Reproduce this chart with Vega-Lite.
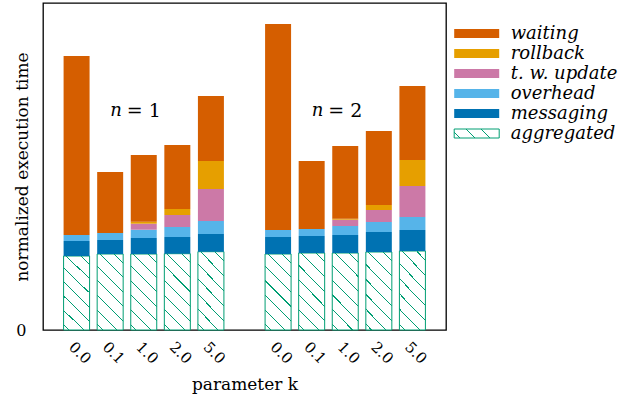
{
  "$schema": "https://vega.github.io/schema/vega-lite/v6.json",
  "autosize": "none",
  "width": 403,
  "height": 327,
  "padding": {"left": 43, "top": 3, "right": 195, "bottom": 70},
  "background": "white",
  "config": {
    "view": {"stroke": "black", "strokeWidth": 1.3},
    "font": "DejaVu Serif"
  },
  "datasets": {
    "bars": [
      {"key": "1|0.0", "comp": "aggregated", "idx": 1, "v": 74},
      {"key": "1|0.0", "comp": "messaging", "idx": 2, "v": 15},
      {"key": "1|0.0", "comp": "overhead", "idx": 3, "v": 6},
      {"key": "1|0.0", "comp": "waiting", "idx": 6, "v": 179},
      {"key": "1|0.1", "comp": "aggregated", "idx": 1, "v": 76},
      {"key": "1|0.1", "comp": "messaging", "idx": 2, "v": 14},
      {"key": "1|0.1", "comp": "overhead", "idx": 3, "v": 7},
      {"key": "1|0.1", "comp": "waiting", "idx": 6, "v": 61},
      {"key": "1|1.0", "comp": "aggregated", "idx": 1, "v": 76},
      {"key": "1|1.0", "comp": "messaging", "idx": 2, "v": 16},
      {"key": "1|1.0", "comp": "overhead", "idx": 3, "v": 8.3},
      {"key": "1|1.0", "comp": "t. w. update", "idx": 4, "v": 6},
      {"key": "1|1.0", "comp": "rollback", "idx": 5, "v": 2},
      {"key": "1|1.0", "comp": "waiting", "idx": 6, "v": 66.7},
      {"key": "1|2.0", "comp": "aggregated", "idx": 1, "v": 76.3},
      {"key": "1|2.0", "comp": "messaging", "idx": 2, "v": 16.7},
      {"key": "1|2.0", "comp": "overhead", "idx": 3, "v": 10},
      {"key": "1|2.0", "comp": "t. w. update", "idx": 4, "v": 12},
      {"key": "1|2.0", "comp": "rollback", "idx": 5, "v": 6},
      {"key": "1|2.0", "comp": "waiting", "idx": 6, "v": 64},
      {"key": "1|5.0", "comp": "aggregated", "idx": 1, "v": 78.3},
      {"key": "1|5.0", "comp": "messaging", "idx": 2, "v": 17.7},
      {"key": "1|5.0", "comp": "overhead", "idx": 3, "v": 13},
      {"key": "1|5.0", "comp": "t. w. update", "idx": 4, "v": 32},
      {"key": "1|5.0", "comp": "rollback", "idx": 5, "v": 28},
      {"key": "1|5.0", "comp": "waiting", "idx": 6, "v": 65},
      {"key": "2|0.0", "comp": "aggregated", "idx": 1, "v": 76},
      {"key": "2|0.0", "comp": "messaging", "idx": 2, "v": 17},
      {"key": "2|0.0", "comp": "overhead", "idx": 3, "v": 7},
      {"key": "2|0.0", "comp": "waiting", "idx": 6, "v": 206},
      {"key": "2|0.1", "comp": "aggregated", "idx": 1, "v": 77},
      {"key": "2|0.1", "comp": "messaging", "idx": 2, "v": 17},
      {"key": "2|0.1", "comp": "overhead", "idx": 3, "v": 7},
      {"key": "2|0.1", "comp": "waiting", "idx": 6, "v": 68},
      {"key": "2|1.0", "comp": "aggregated", "idx": 1, "v": 77},
      {"key": "2|1.0", "comp": "messaging", "idx": 2, "v": 18},
      {"key": "2|1.0", "comp": "overhead", "idx": 3, "v": 9},
      {"key": "2|1.0", "comp": "t. w. update", "idx": 4, "v": 6.3},
      {"key": "2|1.0", "comp": "rollback", "idx": 5, "v": 1},
      {"key": "2|1.0", "comp": "waiting", "idx": 6, "v": 72.7},
      {"key": "2|2.0", "comp": "aggregated", "idx": 1, "v": 78},
      {"key": "2|2.0", "comp": "messaging", "idx": 2, "v": 20},
      {"key": "2|2.0", "comp": "overhead", "idx": 3, "v": 10},
      {"key": "2|2.0", "comp": "t. w. update", "idx": 4, "v": 12},
      {"key": "2|2.0", "comp": "rollback", "idx": 5, "v": 5},
      {"key": "2|2.0", "comp": "waiting", "idx": 6, "v": 74},
      {"key": "2|5.0", "comp": "aggregated", "idx": 1, "v": 79},
      {"key": "2|5.0", "comp": "messaging", "idx": 2, "v": 21},
      {"key": "2|5.0", "comp": "overhead", "idx": 3, "v": 13},
      {"key": "2|5.0", "comp": "t. w. update", "idx": 4, "v": 31},
      {"key": "2|5.0", "comp": "rollback", "idx": 5, "v": 26},
      {"key": "2|5.0", "comp": "waiting", "idx": 6, "v": 74}
    ],
    "labels": [
      {"key": "1|1.0", "var": "n", "rest": "= 1", "y": 219},
      {"key": "2|1.0", "var": "n", "rest": "= 2", "y": 219}
    ]
  },
  "encoding": {
    "x": {
      "field": "key",
      "type": "nominal",
      "scale": {
        "domain": ["1|0.0", "1|0.1", "1|1.0", "1|2.0", "1|5.0", "gap", "2|0.0", "2|0.1", "2|1.0", "2|2.0", "2|5.0"],
        "paddingInner": 0.226,
        "paddingOuter": 0.613
      },
      "axis": {
        "title": "parameter k",
        "titleFont": "DejaVu Serif",
        "titleFontSize": 17,
        "titleFontWeight": "normal",
        "titleColor": "black",
        "titleY": 59,
        "titleBaseline": "alphabetic",
        "labelExpr": "datum.value === 'gap' ? '' : split(datum.value, '|')[1]",
        "labelAngle": 45,
        "labelFont": "DejaVu Serif",
        "labelFontSize": 15,
        "labelColor": "black",
        "labelPadding": 9,
        "domain": false,
        "ticks": false,
        "grid": false
      }
    }
  },
  "layer": [
    {
      "data": {"name": "bars"},
      "mark": {"type": "bar", "strokeWidth": 1},
      "encoding": {
        "y": {
          "field": "v",
          "type": "quantitative",
          "stack": "zero",
          "scale": {"domain": [0, 327], "nice": false, "zero": true},
          "axis": {
            "title": "normalized execution time",
            "titleFont": "DejaVu Serif",
            "titleFontSize": 17,
            "titleFontWeight": "normal",
            "titleColor": "black",
            "titleX": -16,
            "titleBaseline": "alphabetic",
            "values": [0],
            "labelFont": "DejaVu Serif",
            "labelFontSize": 16,
            "labelColor": "black",
            "labelPadding": 17,
            "ticks": false,
            "domain": false,
            "grid": false
          }
        },
        "order": {"field": "idx", "type": "quantitative", "sort": "ascending"},
        "fill": {
          "field": "comp",
          "type": "nominal",
          "condition": {
            "test": "datum.comp === 'aggregated'",
            "value": {
              "gradient": "linear",
              "x1": 0, "y1": 1, "x2": 0.411, "y2": -0.2016,
              "stops": [
                {"offset": 0, "color": "#ffffff"},
                {"offset": 0.05, "color": "#ffffff"}, {"offset": 0.05, "color": "#009e73"}, {"offset": 0.061, "color": "#009e73"}, {"offset": 0.061, "color": "#ffffff"},
                {"offset": 0.193, "color": "#ffffff"}, {"offset": 0.193, "color": "#009e73"}, {"offset": 0.204, "color": "#009e73"}, {"offset": 0.204, "color": "#ffffff"},
                {"offset": 0.336, "color": "#ffffff"}, {"offset": 0.336, "color": "#009e73"}, {"offset": 0.347, "color": "#009e73"}, {"offset": 0.347, "color": "#ffffff"},
                {"offset": 0.479, "color": "#ffffff"}, {"offset": 0.479, "color": "#009e73"}, {"offset": 0.49, "color": "#009e73"}, {"offset": 0.49, "color": "#ffffff"},
                {"offset": 0.622, "color": "#ffffff"}, {"offset": 0.622, "color": "#009e73"}, {"offset": 0.633, "color": "#009e73"}, {"offset": 0.633, "color": "#ffffff"},
                {"offset": 0.765, "color": "#ffffff"}, {"offset": 0.765, "color": "#009e73"}, {"offset": 0.776, "color": "#009e73"}, {"offset": 0.776, "color": "#ffffff"},
                {"offset": 0.908, "color": "#ffffff"}, {"offset": 0.908, "color": "#009e73"}, {"offset": 0.919, "color": "#009e73"}, {"offset": 0.919, "color": "#ffffff"},
                {"offset": 1, "color": "#ffffff"}
              ]
            }
          },
          "scale": {
            "domain": ["aggregated", "messaging", "overhead", "t. w. update", "rollback", "waiting"],
            "range": ["#009e73", "#0072b2", "#56b4e9", "#cc79a7", "#e69f00", "#d55e00"]
          },
          "legend": null
        },
        "stroke": {
          "condition": {"test": "datum.comp === 'aggregated'", "value": "#009e73"},
          "value": null
        }
      }
    },
    {
      "data": {"name": "bars"},
      "mark": {"type": "point", "opacity": 0, "filled": true},
      "encoding": {
        "fill": {"field": "comp", "type": "nominal", "legend": null},
        "shape": {
          "field": "comp",
          "type": "nominal",
          "scale": {
            "domain": ["waiting", "rollback", "t. w. update", "overhead", "messaging", "aggregated"],
            "range": ["M-3,-0.6H3V0.6H-3Z", "M-3,-0.6H3V0.6H-3Z", "M-3,-0.6H3V0.6H-3Z", "M-3,-0.6H3V0.6H-3Z", "M-3,-0.6H3V0.6H-3Z", "M-3,-0.6H3V0.6H-3Z"]
          },
          "legend": {
            "title": null,
            "orient": "none",
            "legendX": 424.7,
            "legendY": 21.5,
            "padding": 0,
            "symbolSize": 225,
            "symbolStrokeWidth": 1,
            "symbolOpacity": 1,
            "symbolFillColor": {"expr": "datum.value === 'aggregated' ? {gradient: 'linear', x1: 0, y1: 1, x2: 1.154, y2: 0.769, stops: [{offset: 0, color: '#ffffff'}, {offset: 0.1, color: '#ffffff'}, {offset: 0.1, color: '#009e73'}, {offset: 0.122, color: '#009e73'}, {offset: 0.122, color: '#ffffff'}, {offset: 0.378, color: '#ffffff'}, {offset: 0.378, color: '#009e73'}, {offset: 0.4, color: '#009e73'}, {offset: 0.4, color: '#ffffff'}, {offset: 0.656, color: '#ffffff'}, {offset: 0.656, color: '#009e73'}, {offset: 0.678, color: '#009e73'}, {offset: 0.678, color: '#ffffff'}, {offset: 1, color: '#ffffff'}]} : scale('fill', datum.value)"},
            "symbolStrokeColor": {"expr": "datum.value === 'aggregated' ? '#009e73' : 'transparent'"},
            "labelOffset": 25,
            "labelFont": "DejaVu Serif",
            "labelFontStyle": "italic",
            "labelFontSize": 18,
            "labelColor": "black",
            "rowPadding": 2
          }
        }
      }
    },
    {
      "data": {"name": "labels"},
      "mark": {"type": "text", "font": "DejaVu Serif", "fontStyle": "italic", "fontSize": 18, "align": "right", "baseline": "middle", "dx": -22, "color": "black"},
      "encoding": {
        "y": {"field": "y", "type": "quantitative"},
        "text": {"field": "var"}
      }
    },
    {
      "data": {"name": "labels"},
      "mark": {"type": "text", "font": "DejaVu Serif", "fontSize": 19, "align": "left", "baseline": "middle", "dx": -17, "color": "black"},
      "encoding": {
        "y": {"field": "y", "type": "quantitative"},
        "text": {"field": "rest"}
      }
    }
  ]
}
